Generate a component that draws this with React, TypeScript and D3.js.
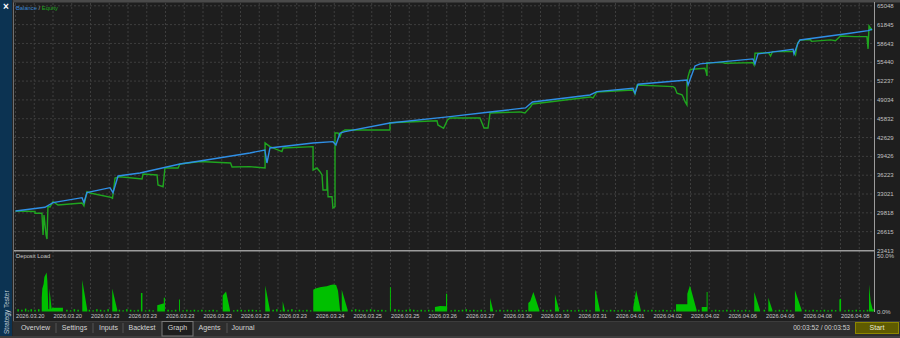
import React from "react";
import * as d3 from "d3";

const Y_TICKS = [23413, 26615, 29818, 33021, 36223, 39426, 42629, 45832, 49034, 52237, 55440, 58643, 61845, 65048];
const X_LABELS = ["2026.03.20","2026.03.20","2026.03.23","2026.03.23","2026.03.23","2026.03.23","2026.03.23","2026.03.23","2026.03.24","2026.03.25","2026.03.25","2026.03.26","2026.03.27","2026.03.30","2026.03.30","2026.03.31","2026.04.01","2026.04.02","2026.04.02","2026.04.06","2026.04.06","2026.04.08","2026.04.08"];
const TABS = ["Overview","Settings","Inputs","Backtest","Graph","Agents","Journal"];

// time index (bars) and balance values
const BALANCE: [number, number][] = [[0,30140],[15.7,30770],[20,31550],[35.5,32400],[36.5,31550],[38.1,33250],[50.4,34100],[52,33250],[54.7,36090],[66.4,36600],[87.7,38130],[98.4,38650],[125,40010],[133,40520],[134.1,38300],[135.7,40860],[158.7,41710],[169.3,41930],[170.9,41370],[173.1,43410],[175.7,43630],[199.7,45110],[231.7,46190],[253.1,46990],[272,47670],[275.7,48690],[306.4,49880],[310.1,50440],[329.3,51020],[330.4,50170],[332,51700],[358.1,52430],[358.7,51580],[362.4,54820],[365.1,55160],[393.3,56010],[394.4,55160],[396,56860],[414.7,57660],[415.2,56860],[417.3,58680],[418.4,59240],[445.1,60380],[454.7,60820],[456.8,61060]];

const EQUITY: [number, number][] = [[0,30140],[10.4,30050],[10.4,29740],[14.1,29740],[14.7,26050],[15.2,29450],[16.3,26050],[16.8,25370],[17.3,30870],[18.4,30820],[20,31720],[22.7,31160],[35.5,31500],[36.5,30990],[38.1,33420],[39.7,33200],[51.5,32400],[51.7,32180],[53.1,35750],[55.7,35970],[67.5,35580],[68,36430],[75.5,36260],[76,34560],[78.7,34270],[79.7,37450],[86.7,37450],[87.7,38130],[98.4,38560],[114.7,38300],[115.5,37630],[125,37680],[133.1,37450],[133.1,41710],[135.7,41080],[142.1,40230],[142.7,40860],[158.7,41080],[158.7,37110],[160.8,37450],[162.4,36820],[163.5,36260],[164,33710],[166.1,33710],[166.1,37110],[166.7,32570],[168.8,32570],[169.3,30650],[170.4,30870],[170.4,43410],[172,43410],[173.1,42780],[174.1,43630],[175.7,43920],[199.7,43920],[199.7,45160],[224.8,45500],[225.3,44770],[228.3,44210],[230.4,45630],[231.7,45970],[247.7,45970],[249.9,44260],[252,44260],[253.1,46820],[269,46990],[271.7,46820],[274.7,47840],[275.7,48350],[306.4,49540],[308,49370],[310.1,50390],[329.3,50730],[330.4,50050],[331.5,51580],[350.7,51290],[351.7,51070],[352.8,50170],[355.5,49880],[356,49590],[357.1,48740],[358.1,48180],[358.1,51920],[358.7,52990],[359.7,54130],[360.8,54250],[367.7,54420],[368.3,53840],[368.8,53110],[368.8,55380],[377.3,55380],[378.4,55270],[393.3,55380],[393.9,54980],[394.4,56980],[401.6,57080],[402.7,56520],[403.7,57250],[414.9,57250],[416,56690],[417.1,58680],[418.4,59240],[424,59300],[424.5,59000],[434.7,59250],[437.3,59100],[440,59920],[447.7,59800],[454.1,59800],[454.7,57710],[455.2,61620],[456.8,60890]];

// deposit load, percent
const DEPOSIT: [number, number][] = [[0,0],[14,0],[14,12],[14.3,20],[15,24],[15.4,30],[16,32],[16.6,34],[17,26],[17.5,2],[18,2],[18,20],[18.5,14],[19.3,2],[19.5,3.3],[25.3,3.3],[25.3,0],[35.6,0],[35.6,27.5],[38.3,1],[38.3,0],[51.6,0],[51.6,20],[54.3,1],[54.3,0],[66.9,0],[66.9,16],[67.7,16],[67.7,0],[75.6,0],[75.6,5.5],[78.8,7],[79.1,7],[79.1,12],[79.7,12],[79.7,0],[87.2,0],[87.2,10.4],[87.7,10.4],[87.7,0],[110.5,0],[110.5,14],[112.3,17.5],[114.4,1],[114.4,0],[133.2,0],[133.2,22.6],[135.7,1],[135.7,0],[142.5,0],[142.5,9],[143.7,1],[143.7,0],[158.8,0],[158.8,19],[160,20],[162.4,21],[164,21.5],[166,22],[168,23],[169.5,23.5],[171,23],[172,18],[173.1,1],[174,0],[174,19],[177.2,1],[177.2,0],[199.7,0],[199.7,21],[200.2,21],[200.2,0],[223.7,0],[223.7,4],[226.4,4.7],[229.6,4.5],[229.6,15.5],[230.2,15.5],[230.2,0],[253.1,0],[253.1,11.8],[254.7,1],[254.7,0],[273.5,0],[273.5,7.5],[274.5,9],[276.2,17],[279.4,1],[279.4,0],[287.7,0],[287.7,15],[290,1],[290,0],[309.1,0],[309.1,19],[309.8,16],[311.7,1],[311.7,0],[329.5,0],[329.5,4],[331,18.4],[333.5,1],[333.5,0],[352.3,0],[352.3,6.4],[358.3,6.4],[358.3,15.5],[359.7,22.6],[363.3,1],[363.3,0],[366,0],[366,4],[368.6,4],[368.6,17],[369.1,17],[369.1,1],[369.1,0],[394,0],[394,17],[397.1,1],[397.1,0],[401.5,0],[401.5,12],[403.7,1],[403.7,0],[415.7,0],[415.7,18.4],[419.3,1],[419.3,0],[439.4,0],[439.4,10.4],[440.3,11.3],[440.3,0],[455.2,0],[455.2,23.5],[456.1,8.4],[457.3,1],[457.3,0]];

const DEPOSIT_SMALL: [number, number][] = [[1,2],[3,1.5],[5,2.5],[6.5,1],[8,2],[10,1.5],[12,2],[27,1.5],[29,1],[31,2],[33,1.5],[39,1.5],[41,1],[43,2],[45,1.5],[47,1],[49,2],[55,1.5],[57,1],[59,2],[61,1.5],[63,1],[65,1.5],[69,1],[71,1.5],[73,1],[81,1.5],[83,1],[85,1.5],[89,1],[91,1.5],[93,1],[95,1.5],[97,1],[99,1.5],[101,1],[103,1.2],[105,1.5],[107,1],[116,1],[118,1.5],[120,1.5],[122,1],[124,1.5],[126,1.5],[128,1.2],[130,1],[137,1.5],[139,2],[141,1],[145,1.5],[147,2],[149,1],[151,1.5],[153,1],[155,1.5],[157,1],[179,1.5],[181,2],[183,1.5],[185,1],[187,1.5],[189,2],[191,1.5],[193,1.2],[195,1.5],[197,1],[202,2],[204,1.5],[206,1],[208,1.5],[210,2],[212,1.5],[214,1],[216,1.5],[218,1],[220,1.5],[222,1],[232,1],[234,1.5],[236,1.2],[238,1.5],[240,2],[242,1.2],[244,1.5],[246,1],[248,1.5],[250,1],[256,1],[258,1.5],[260,1],[262,1.5],[264,1.2],[266,1],[268,1.5],[270,1],[272,1.2],[281,1.5],[283,1],[285,1.5],[292,1],[294,1.5],[296,1.2],[298,1],[300,1.5],[302,1],[304,1.5],[306,1],[313,1.5],[315,1],[317,1.5],[319,1.2],[321,1],[323,1.5],[325,1],[327,1.2],[335,1.5],[337,1],[339,1.5],[341,1.2],[343,1],[345,1.5],[347,1.2],[349,1],[351,1.5],[364,1.5],[371,1],[373,1.5],[375,1.2],[377,1],[379,1.5],[381,1],[383,1.5],[385,1.2],[387,1],[389,1.5],[391,1],[399,1.5],[405,1],[407,1.5],[409,1],[411,1.5],[413,1],[421,1.5],[423,1],[425,1.5],[427,1.2],[429,1],[431,1.5],[433,1],[435,1.5],[437,1.2],[442,1],[444,1.5],[446,1],[448,1.5],[450,1.2],[452,1],[454,1.5],[457,2]];

const W = 900, H = 338;
const FONT = "'Liberation Sans', Arial, sans-serif";

export default function App() {
  const xs = d3.scaleLinear().domain([0, 458]).range([15.5, 874.25]);
  const ys = d3.scaleLinear().domain([23413, 65048]).range([250.5, 5.8]);
  const yd = d3.scaleLinear().domain([0, 50]).range([311.5, 254]);

  const line = d3.line<[number, number]>().x(d => xs(d[0])).y(d => ys(d[1]));
  const area = d3.area<[number, number]>().x(d => xs(d[0])).y0(yd(0)).y1(d => yd(d[1]));

  const gridT = d3.range(0, 460, 10);
  const tabX = [35.5, 74.5, 108.5, 142, 177.5, 209.5, 243];
  const seps = [56, 93, 123, 227];

  return (
    <div style={{ position: "fixed", left: 0, top: 0 }}>
      <svg width={W} height={H} style={{ display: "block", fontFamily: FONT }}>
        <defs>
          <clipPath id="mainClip"><rect x={14} y={3} width={860} height={247} /></clipPath>
        </defs>
        <rect x={0} y={0} width={W} height={H} fill="#1e1e1e" />
        {/* left sidebar */}
        <rect x={0} y={0} width={12} height={H} fill="#0c3352" />
        <rect x={12} y={0} width={2} height={H} fill="#262626" />
        <line x1={13.5} x2={13.5} y1={0} y2={321} stroke="#707070" strokeWidth={1} />
        <text x={6} y={10} fill="#ffffff" fontSize={10} fontWeight="bold" textAnchor="middle">×</text>
        <text transform="translate(8.5,334) rotate(-90)" fill="#c5ced8" fontSize={6.5}>Strategy Tester</text>
        {/* top border */}
        <rect x={13} y={0} width={887} height={2.5} fill="#4a4a4a" />

        {/* grid */}
        {gridT.map(t => (
          <line key={"gv" + t} x1={xs(t)} x2={xs(t)} y1={3} y2={311} stroke="#3e3e3e" strokeWidth={1} strokeDasharray="2,2" />
        ))}
        {Y_TICKS.slice(1).map(v => (
          <line key={"gh" + v} x1={14} x2={874} y1={ys(v)} y2={ys(v)} stroke="#3e3e3e" strokeWidth={1} strokeDasharray="2,2" />
        ))}

        {/* balance / equity */}
        <g clipPath="url(#mainClip)">
          <path d={line(EQUITY) || ""} fill="none" stroke="#1fa51f" strokeWidth={1.4} />
          <path d={line(BALANCE) || ""} fill="none" stroke="#2f8fe6" strokeWidth={1.4} />
        </g>
        <text x={16} y={9.5} fontSize={5.8}>
          <tspan fill="#3a8ad8">Balance</tspan>
          <tspan fill="#b0b0b0"> / </tspan>
          <tspan fill="#1fa51f">Equity</tspan>
        </text>

        {/* separator */}
        <line x1={14} x2={875} y1={250.8} y2={250.8} stroke="#9c9c9c" strokeWidth={1.5} />

        {/* deposit load */}
        <path d={area(DEPOSIT) || ""} fill="#00c000" />
        {DEPOSIT_SMALL.map(([t, v], i) => (
          <rect key={"ds" + i} x={xs(t)} width={1.5} y={yd(v)} height={yd(0) - yd(v)} fill="#00c000" />
        ))}
        <text x={16} y={257.5} fill="#c8c8c8" fontSize={5.8}>Deposit Load</text>

        {/* right axis */}
        <line x1={874.5} x2={874.5} y1={2} y2={312} stroke="#9c9c9c" strokeWidth={1} />
        {Y_TICKS.map(v => (
          <text key={"yl" + v} x={877} y={ys(v)} dy="0.35em" fill="#c0c0c0" fontSize={6}>{v}</text>
        ))}
        <text x={877} y={yd(50) + 1.5} dy="0.35em" fill="#c0c0c0" fontSize={6}>50.0%</text>
        <text x={877} y={yd(0)} dy="0.35em" fill="#c0c0c0" fontSize={6}>0.0%</text>

        {/* x labels */}
        {X_LABELS.map((s, i) => (
          <text key={"xl" + i} x={xs(i * 20) + 0.5} y={316.5} dy="0.35em" fill="#c8c8c8" fontSize={5.7}>{s}</text>
        ))}

        {/* tab strip */}
        <rect x={13} y={321} width={887} height={17} fill="#2d2d2d" />
        <line x1={13} x2={900} y1={321.5} y2={321.5} stroke="#3c3c3c" strokeWidth={1} />
        <rect x={0} y={336} width={W} height={2} fill="#3e3e3e" />
        <rect x={162} y={321.5} width={31} height={14.5} fill="#1e1e1e" stroke="#7a7a7a" strokeWidth={1} />
        {seps.map(s => (
          <line key={"sp" + s} x1={s} x2={s} y1={323} y2={333} stroke="#555555" strokeWidth={1} />
        ))}
        {TABS.map((t, i) => (
          <text key={"tb" + t} x={tabX[i]} y={328} dy="0.35em" textAnchor="middle" fill="#d4d4d4" fontSize={7}>{t}</text>
        ))}
        <text x={850} y={328} dy="0.35em" textAnchor="end" fill="#d0d0d0" fontSize={6.6}>00:03:52 / 00:03:53</text>
        <rect x={855.5} y={322.5} width={43} height={11} fill="#5f5b00" stroke="#8c8600" strokeWidth={1} />
        <text x={877} y={328} dy="0.35em" textAnchor="middle" fill="#e8e8d0" fontSize={7}>Start</text>
      </svg>
    </div>
  );
}
